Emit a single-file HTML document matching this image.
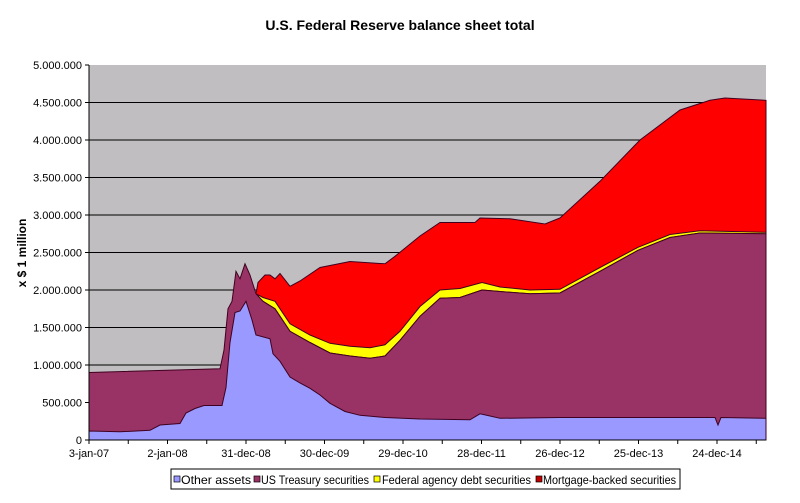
<!DOCTYPE html>
<html><head><meta charset="utf-8"><style>
body{margin:0;background:#fff;width:800px;height:498px;overflow:hidden}
text{font-family:"Liberation Sans",Arial,sans-serif}
</style></head><body>
<svg id="s" width="800" height="498" xmlns="http://www.w3.org/2000/svg">
<text x="400" y="30" text-anchor="middle" font-size="14" font-weight="bold">U.S. Federal Reserve balance sheet total</text>
<rect x="89" y="65" width="677" height="375" fill="#c0bec0"/>
<g id="grid" stroke="#000" stroke-width="1"></g>
<g id="areas"></g>
<line x1="89" y1="65" x2="89" y2="440" stroke="#000"/>
<line x1="89" y1="440" x2="766" y2="440" stroke="#000"/>
<g id="ticks" stroke="#000"></g>
<g id="labels" font-size="11" fill="#000"></g>
<text transform="translate(26,253) rotate(-90)" text-anchor="middle" font-size="12" font-weight="bold">x $ 1 million</text>
<rect x="171" y="469" width="509" height="20" fill="#fff" stroke="#000"/>
<g font-size="12">
<rect x="174" y="476" width="6" height="6" fill="#9999ff" stroke="#000" stroke-width="0.7"/>
<text x="181" y="484" textLength="70" lengthAdjust="spacingAndGlyphs">Other assets</text>
<rect x="254" y="476" width="6" height="6" fill="#993366" stroke="#000" stroke-width="0.7"/>
<text x="261" y="484" textLength="108" lengthAdjust="spacingAndGlyphs">US Treasury securities</text>
<rect x="374" y="476" width="6" height="6" fill="#ffff00" stroke="#000" stroke-width="0.7"/>
<text x="382" y="484" textLength="149" lengthAdjust="spacingAndGlyphs">Federal agency debt securities</text>
<rect x="536" y="476" width="6" height="6" fill="#c00000" stroke="#000" stroke-width="0.7"/>
<text x="543" y="484" textLength="133" lengthAdjust="spacingAndGlyphs">Mortgage-backed securities</text>
</g>
</svg>
<script>
var Y=function(v){return 440-75*v};
var g=document.getElementById('grid'),tk=document.getElementById('ticks'),lb=document.getElementById('labels');
var ns='http://www.w3.org/2000/svg';
function el(p,n,a,txt){var e=document.createElementNS(ns,n);for(var k in a)e.setAttribute(k,a[k]);if(txt)e.textContent=txt;p.appendChild(e);return e;}
var yl=['0','500.000','1.000.000','1.500.000','2.000.000','2.500.000','3.000.000','3.500.000','4.000.000','4.500.000','5.000.000'];
for(var i=0;i<=10;i++){var y=440-37.5*i;if(i>0&&i<10)el(g,'line',{x1:89,x2:766,y1:y,y2:y});el(tk,'line',{x1:85,x2:89,y1:y,y2:y});el(lb,'text',{x:82,y:y+4,'text-anchor':'end'},yl[i]);}
var xl=['3-jan-07','2-jan-08','31-dec-08','30-dec-09','29-dec-10','28-dec-11','26-dec-12','25-dec-13','24-dec-14'];
for(var i=0;i<=17;i++){var x=89+39.25*i;if(x>767)break;el(tk,'line',{x1:x,x2:x,y1:440,y2:444});if(i%2==0)el(lb,'text',{x:x,y:457,'text-anchor':'middle'},xl[i/2]);}
var blue=[[89,.12],[120,.11],[150,.13],[160,.2],[180,.22],[186,.36],[195,.42],[204,.46],[222,.46],[226,.7],[230,1.3],[235,1.7],[240,1.72],[246,1.85],[252,1.6],[256,1.4],[270,1.35],[273,1.15],[280,1.05],[290,.84],[300,.76],[310,.69],[320,.6],[330,.49],[345,.38],[360,.33],[385,.3],[420,.28],[470,.27],[480,.35],[490,.32],[500,.29],[560,.3],[715,.3],[718,.2],[721,.3],[766,.29]];
var tre=[[89,.9],[220,.95],[224,1.2],[228,1.75],[232,1.85],[236,2.25],[240,2.15],[245,2.35],[250,2.2],[256,1.95],[263,1.85],[275,1.75],[290,1.45],[310,1.3],[330,1.16],[350,1.12],[370,1.09],[385,1.12],[400,1.33],[420,1.65],[440,1.89],[460,1.9],[482,2.0],[500,1.98],[530,1.95],[560,1.96],[600,2.25],[638,2.53],[670,2.7],[700,2.76],[766,2.75]];
var yel=[[256,1.95],[263,1.9],[275,1.85],[290,1.55],[310,1.4],[330,1.29],[350,1.25],[370,1.23],[385,1.27],[400,1.45],[420,1.78],[440,2.0],[460,2.02],[482,2.1],[500,2.04],[530,2.0],[560,2.01],[600,2.3],[638,2.57],[670,2.74],[700,2.79],[766,2.77]];
var red=[[256,1.95],[258,2.1],[265,2.2],[270,2.2],[275,2.15],[280,2.22],[290,2.05],[300,2.12],[320,2.3],[350,2.38],[385,2.35],[395,2.45],[420,2.72],[440,2.9],[475,2.9],[480,2.96],[510,2.95],[545,2.88],[560,2.96],[600,3.45],[640,4.0],[680,4.4],[710,4.53],[725,4.56],[766,4.53]];
var A=document.getElementById('areas');
function pts(a){return a.map(function(p){return p[0].toFixed(1)+','+Y(p[1]).toFixed(1)}).join('L');}
function area(top,bot,fill){var d='M'+pts(top);
if(bot)d+='L'+pts(bot.slice().reverse());else d+='L766,440L89,440';d+='Z';
el(A,'path',{d:d,fill:fill,stroke:'#400020','stroke-width':1});}
var treB=tre.filter(function(p){return p[0]>=256});
area(red,treB,'#ff0000');
area(yel,treB,'#ffff00');
area(tre,null,'#993366');
area(blue,null,'#9999ff');
</script>
</body></html>
